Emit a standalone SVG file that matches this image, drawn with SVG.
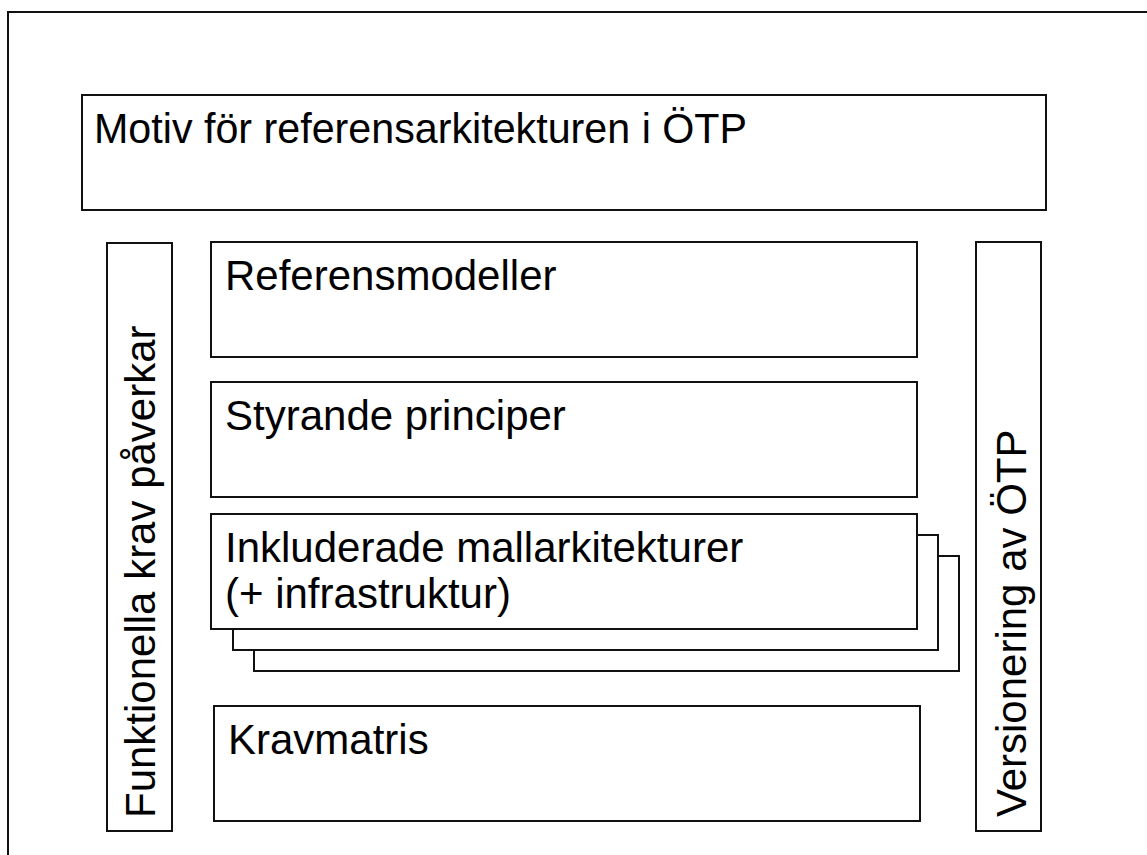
<svg xmlns="http://www.w3.org/2000/svg" width="1147" height="855" viewBox="0 0 1147 855">
<style>
.b{fill:#fff;stroke:#111;stroke-width:2}
.t{font-family:"Liberation Sans",Arial,sans-serif;font-size:42px;fill:#000}
</style>
<rect x="0" y="0" width="1147" height="855" fill="#fff"/>
<g id="frame"><rect class="b" x="8" y="12" width="1160" height="900"/></g>
<g id="motiv"><rect class="b" x="82" y="95" width="964" height="115"/><text class="t" x="94" y="143" textLength="653" lengthAdjust="spacingAndGlyphs">Motiv för referensarkitekturen i ÖTP</text></g>
<g id="funktionella"><rect class="b" x="107" y="243" width="65" height="588"/><text class="t" transform="translate(155,818) rotate(-90)">Funktionella krav påverkar</text></g>
<g id="versionering"><rect class="b" x="976" y="242" width="65" height="589"/><text class="t" transform="translate(1026,817) rotate(-90)">Versionering av ÖTP</text></g>
<g id="referensmodeller"><rect class="b" x="211" y="242" width="706" height="115"/><text class="t" x="225" y="290">Referensmodeller</text></g>
<g id="styrande"><rect class="b" x="211" y="382" width="706" height="115"/><text class="t" x="225" y="430">Styrande principer</text></g>
<g id="inkluderade">
<rect class="b" x="254" y="556" width="705" height="115"/>
<rect class="b" x="233" y="535" width="705" height="115"/>
<rect class="b" x="211" y="514" width="706" height="115"/>
<text class="t" x="225" y="562">Inkluderade mallarkitekturer</text>
<text class="t" x="225" y="608">(+ infrastruktur)</text>
</g>
<g id="kravmatris"><rect class="b" x="214" y="706" width="706" height="115"/><text class="t" x="228" y="754">Kravmatris</text></g>
<g id="connectors"></g>
</svg>
